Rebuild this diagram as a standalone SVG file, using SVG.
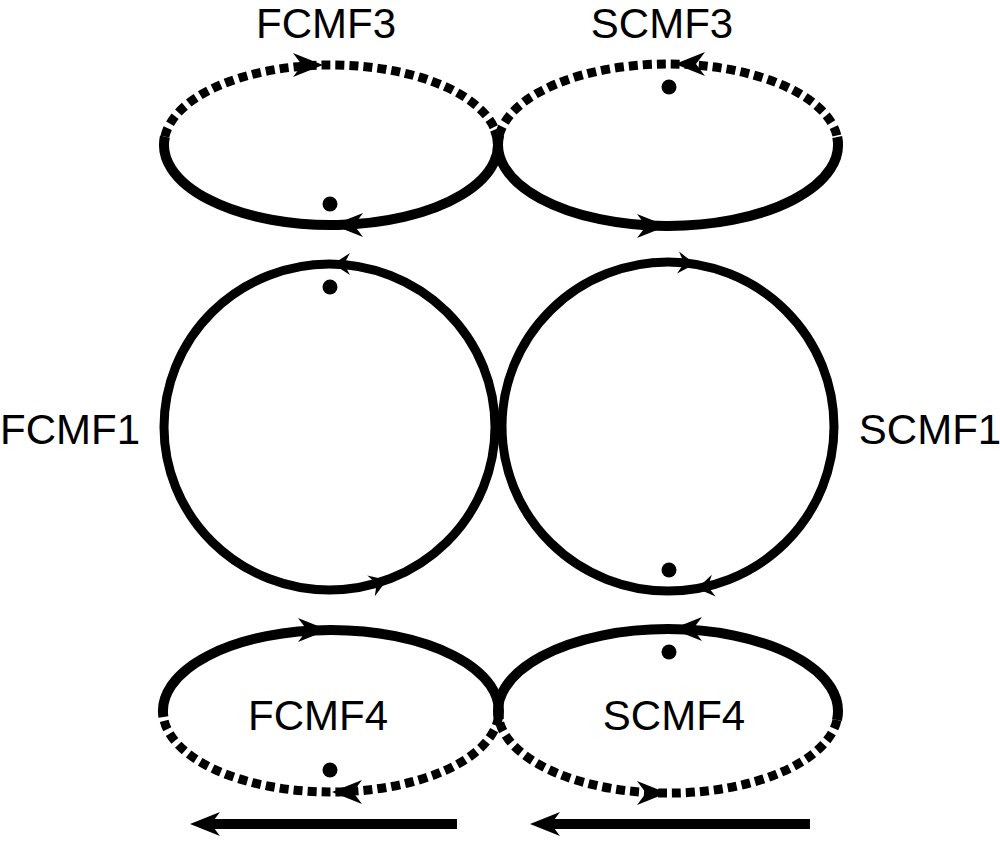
<svg xmlns="http://www.w3.org/2000/svg" xmlns:xlink="http://www.w3.org/1999/xlink" width="1000" height="843" viewBox="0 0 1000 843">
<style>
.solid{fill:none;stroke:#000;stroke-width:10}
.dash{fill:none;stroke:#000;stroke-width:9;stroke-dasharray:9 5}
.ring{fill:none;stroke:#000;stroke-width:9}
.dot{fill:#000}
.lbl{font-family:"Liberation Sans",Arial,sans-serif;font-size:42px;fill:#000;text-anchor:middle}
.head{fill:#000}
</style>
<defs>
<path id="bighead" class="head" d="M0,0 L-30,-12 L-21,0 L-30,12 Z"/>
<path id="smallhead" class="head" d="M0,0 L-17,-11 L-11,0 L-17,11 Z"/>
</defs>
<rect width="1000" height="843" fill="#fff"/>

<g id="FCMF3">
<path class="dash" d="M164.9,136.6 A167,80 0 0 1 494.9,129.7"/>
<path class="solid" d="M494.9,129.7 A167,80 0 1 1 164.9,136.6"/>
<use xlink:href="#bighead" transform="translate(323,65)"/>
<use xlink:href="#bighead" transform="translate(333,225) rotate(180)"/>
<circle class="dot" cx="330" cy="204" r="7.5"/>
<text class="lbl" x="326" y="38">FCMF3</text>
</g>

<g id="SCMF3">
<path class="dash" d="M499.3,135.1 A170,81 0 0 1 837.2,137"/>
<path class="solid" d="M837.2,137 A170,81 0 1 1 499.3,135.1"/>
<use xlink:href="#bighead" transform="translate(675,64) rotate(180)"/>
<use xlink:href="#bighead" transform="translate(667,226)"/>
<circle class="dot" cx="669" cy="87" r="7.5"/>
<text class="lbl" x="662" y="38">SCMF3</text>
</g>

<g id="FCMF1">
<ellipse class="ring" cx="329.5" cy="427" rx="165.5" ry="163"/>
<use xlink:href="#smallhead" transform="translate(333,264) rotate(180)"/>
<use xlink:href="#smallhead" transform="translate(387,580) rotate(-20)"/>
<circle class="dot" cx="330" cy="287" r="7.5"/>
<text class="lbl" x="70" y="444">FCMF1</text>
</g>

<g id="SCMF1">
<ellipse class="ring" cx="668" cy="426.5" rx="166" ry="164.5"/>
<use xlink:href="#smallhead" transform="translate(695,264) rotate(5)"/>
<use xlink:href="#smallhead" transform="translate(697,588.5) rotate(170)"/>
<circle class="dot" cx="669" cy="570" r="7.5"/>
<text class="lbl" x="930" y="444">SCMF1</text>
</g>

<g id="FCMF4">
<path class="solid" d="M163.4,716.9 A168,81 0 1 1 498.5,716.9"/>
<path class="dash" d="M498.5,716.9 A168,81 0 0 1 163.4,716.9"/>
<use xlink:href="#bighead" transform="translate(328,630)"/>
<use xlink:href="#bighead" transform="translate(332,792) rotate(180)"/>
<circle class="dot" cx="330" cy="770" r="7.5"/>
<text class="lbl" x="318" y="730">FCMF4</text>
</g>

<g id="SCMF4">
<path class="solid" d="M499,720 A170,82 0 1 1 837,720"/>
<path class="dash" d="M837,720 A170,82 0 0 1 499,720"/>
<use xlink:href="#bighead" transform="translate(672,629) rotate(180)"/>
<use xlink:href="#bighead" transform="translate(667,793)"/>
<circle class="dot" cx="669" cy="652" r="7.5"/>
<text class="lbl" x="674" y="730">SCMF4</text>
</g>

<g id="connectors">
<line x1="457" y1="824" x2="208" y2="824" stroke="#000" stroke-width="10"/>
<use xlink:href="#bighead" transform="translate(190,824) rotate(180)"/>
<line x1="810" y1="824" x2="548" y2="824" stroke="#000" stroke-width="10"/>
<use xlink:href="#bighead" transform="translate(530,824) rotate(180)"/>
</g>
</svg>
